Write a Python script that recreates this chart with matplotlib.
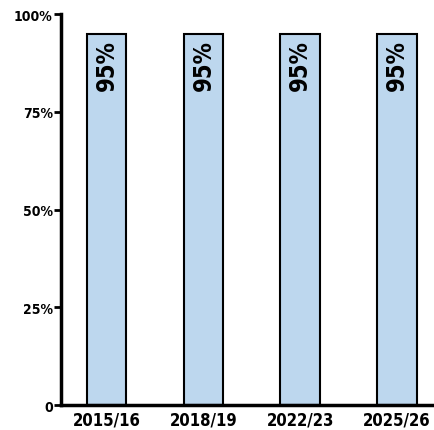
import matplotlib
matplotlib.use('Agg')
import matplotlib.pyplot as plt
from matplotlib import font_manager

names = sorted({f.name for f in font_manager.fontManager.ttflist})
print(names)
print([(f.name, f.stretch, f.weight) for f in font_manager.fontManager.ttflist if 'Condensed' in f.fname or 'Narrow' in f.fname])

plt.rcParams['font.family'] = ['DejaVu Sans']
plt.rcParams['font.weight'] = 'bold'
plt.rcParams['font.stretch'] = 'condensed'

years = ['2015/16', '2018/19', '2022/23', '2025/26']
shares = [95, 95, 95, 95]
ytick_vals = [0, 25, 50, 75, 100]
ytick_labels = ['0', '25%', '50%', '75%', '100%']

fig = plt.figure(figsize=(4.34, 4.31), dpi=100)
ax = fig.add_axes([0.1406, 0.058, 0.8594, 0.907])

x = range(len(years))
ax.bar(x, shares, width=0.41, color='#bdd7ee', edgecolor='black', linewidth=1.5)
for i, v in zip(x, shares):
    ax.text(i, v - 1.5, f'{v}%', rotation=90, ha='center', va='top',
            fontsize=17, fontweight='bold')

ax.set_xlim(-0.47, 3.38)
ax.set_ylim(0, 100)
ax.set_xticks(list(x))
ax.set_xticklabels(years, fontsize=12, fontweight='bold')
ax.set_yticks(ytick_vals)
ax.set_yticklabels(ytick_labels, fontsize=10, fontweight='bold')
ax.tick_params(axis='x', length=0, pad=4)
ax.tick_params(axis='y', length=5, width=2, pad=1)
for s in ['top', 'right']:
    ax.spines[s].set_visible(False)
for s in ['left', 'bottom']:
    ax.spines[s].set_linewidth(2.5)

fig.savefig('out.png', dpi=100)
